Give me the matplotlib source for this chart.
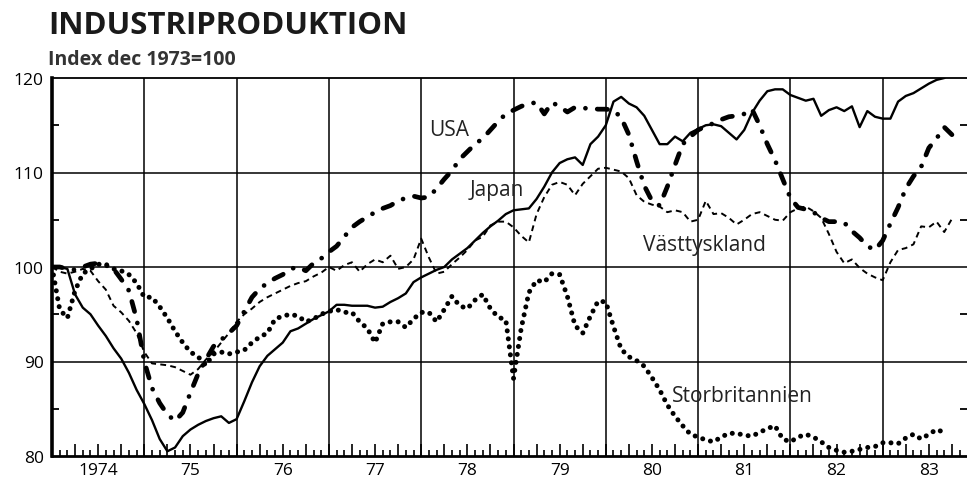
import numpy as np
import matplotlib
matplotlib.use("Agg")
import matplotlib.pyplot as plt
from matplotlib.ticker import FixedLocator, MultipleLocator

# monthly index values, dec 1973 = 100, starting jan 1974
usa = [
    100, 100, 99.8, 99.7, 100, 100.3, 100.4, 100.3, 99.8, 98.7, 97.5, 94.5,
    90.0, 87.2, 85.6, 84.4, 83.7, 84.6, 86.7, 88.7, 90.2, 91.6, 92.3, 93.0,
    93.8, 95.3, 96.8, 97.7, 98.3, 98.8, 99.2, 99.8, 100.0, 99.6, 100.4, 100.9,
    101.6, 102.2, 103.2, 104.2, 104.8, 105.3, 105.8, 106.2, 106.5, 107.0, 107.3, 107.5,
    107.3, 107.4, 108.3, 109.3, 110.2, 111.4, 112.2, 113.0, 113.6, 114.5, 115.4, 116.2,
    116.6, 117.0, 117.3, 117.4, 116.2, 117.4, 117.0, 116.4, 116.9, 116.8, 116.8, 116.7,
    116.7, 116.6, 115.8, 114.0, 111.2, 108.6, 107.0, 106.5, 108.5, 110.8, 113.0, 113.8,
    114.5, 114.9, 115.2, 115.6, 115.9, 116.0, 116.2, 116.7, 115.0, 113.0, 111.3, 109.3,
    107.3, 106.3, 106.1, 105.8, 105.2, 104.8, 104.8, 104.7, 103.8, 103.1, 102.2, 101.8,
    102.8, 104.6, 106.3, 108.3, 109.6, 110.6, 112.6, 113.6, 114.8, 114.0,
]
japan = [
    100, 100, 99.8, 97.1, 95.7, 95.0, 93.8, 92.7, 91.4, 90.3, 88.8, 87.0,
    85.5, 83.8, 81.8, 80.5, 80.9, 82.1, 82.8, 83.3, 83.7, 84.0, 84.2, 83.5,
    83.9, 85.8, 87.8, 89.5, 90.6, 91.3, 92.0, 93.2, 93.5, 94.0, 94.5, 94.9,
    95.3, 96.0, 96.0, 95.9, 95.9, 95.9, 95.7, 95.8, 96.3, 96.7, 97.2, 98.4,
    98.9, 99.3, 99.7, 100.0, 100.8, 101.4, 102.0, 102.8, 103.6, 104.3, 104.9, 105.6,
    106.0, 106.1, 106.2, 107.2, 108.5, 110.0, 111.0, 111.4, 111.6, 110.8, 113.0, 113.8,
    115.0, 117.5, 118.0, 117.3, 116.9, 116.0, 114.5, 113.0, 113.0, 113.8, 113.3, 114.2,
    114.6, 115.0, 115.1, 114.9, 114.2, 113.5, 114.5, 116.3, 117.6, 118.6, 118.8, 118.8,
    118.2, 117.9, 117.6, 117.8, 116.0, 116.6, 116.9, 116.5, 117.0, 114.8, 116.5, 115.9,
    115.7, 115.7, 117.5, 118.1, 118.4, 118.9, 119.4, 119.8, 120.0,
]
vasttyskland = [
    100, 99.5, 99.3, 99.5, 99.8, 99.6, 98.5, 97.6, 95.9, 95.2, 94.3, 93.0,
    91.0, 89.8, 89.7, 89.6, 89.4, 89.0, 88.6, 89.2, 90.2, 91.0, 92.0, 93.0,
    94.2, 95.0, 95.6, 96.3, 96.8, 97.2, 97.6, 98.0, 98.3, 98.5, 99.0, 99.4,
    100.0, 99.6, 100.2, 100.5, 99.5, 100.3, 100.8, 100.5, 101.2, 99.8, 100.0, 100.8,
    103.0, 101.0, 99.3, 99.5, 100.3, 101.0, 101.8, 102.8, 103.2, 104.4, 104.8, 104.8,
    104.2, 103.3, 102.6, 105.6, 107.4, 108.7, 109.0, 108.7, 107.6, 108.8, 109.6, 110.4,
    110.5, 110.3, 110.1, 109.4, 107.6, 106.9, 106.6, 106.4, 105.8, 106.0, 105.8, 104.8,
    105.0, 107.0, 105.6, 105.7, 105.2, 104.5, 105.0, 105.6, 105.8, 105.4, 105.0, 104.9,
    105.8, 106.2, 106.4, 105.9, 105.2, 103.5, 101.6, 100.4, 100.8, 99.9, 99.3, 98.9,
    98.6, 100.5, 101.8, 102.0, 102.4, 104.3, 104.2, 104.8, 103.7, 105.1,
]
storbritannien = [
    100, 95.5, 94.6, 97.5, 99.3, 99.8, 100.3, 100.2, 99.8, 99.6, 99.2, 98.3,
    96.8, 96.8, 95.8, 94.6, 93.2, 92.0, 91.0, 90.5, 89.6, 90.8, 91.0, 90.8,
    91.0, 91.2, 92.0, 92.6, 93.0, 94.5, 94.8, 95.0, 94.8, 94.2, 94.5, 95.0,
    95.3, 95.5, 95.2, 95.2, 94.2, 93.5, 92.0, 94.0, 94.2, 94.2, 93.6, 94.5,
    95.2, 95.2, 94.2, 95.5, 96.9, 95.9, 95.6, 96.5, 97.1, 95.6, 94.7, 94.4,
    88.2, 93.5, 97.3, 98.6, 98.4, 99.3, 99.2, 96.9, 93.8, 93.0, 94.8, 96.4,
    96.3, 93.7, 91.3, 90.5, 90.1, 89.5, 88.3, 87.0, 85.4, 84.2, 83.2, 82.3,
    82.0, 81.7, 81.5, 82.0, 82.4, 82.4, 82.2, 82.1, 82.5, 82.9, 83.2, 81.8,
    81.5, 82.0, 82.3, 82.0, 81.5, 80.9, 80.6, 80.4, 80.5, 80.7, 80.9, 81.0,
    81.4, 81.4, 81.3, 81.9, 82.3, 81.8, 82.3, 82.8, 82.5,
]
year_labels = ["1974", "75", "76", "77", "78", "79", "80", "81", "82", "83"]
y_labels = ["80", "90", "100", "110", "120"]

FONT = ["Open Sans", "DejaVu Sans"]
plt.rcParams["font.family"] = FONT


def months(values):
    return 1974 + np.arange(len(values)) / 12


fig = plt.figure(figsize=(9.67, 4.85), dpi=100)
ax = fig.add_axes([52 / 967, 28 / 485, 1 - 52 / 967, 378 / 485])
ax.set_xlim(1974, 1974 + 915 / 92.3)
ax.set_ylim(80, 120)

# grid
for yv in (90, 100, 110):
    ax.axhline(yv, color="black", lw=1.1, zorder=1)
for yr in range(1975, 1984):
    ax.axvline(yr, color="black", lw=1.1, zorder=1)

ax.plot(months(japan), japan, color="black", lw=1.7, zorder=3)
ax.plot(months(vasttyskland), vasttyskland, color="black", lw=1.4,
        dashes=(3, 2.2), zorder=3)
ax.plot(months(storbritannien), storbritannien, color="black", lw=3.6,
        dashes=(0.01, 1.6), dash_capstyle="round", zorder=4)
ax.plot(months(usa), usa, color="black", lw=3.4,
        dashes=(2.2, 2.5, 0.01, 2.5), dash_capstyle="round", zorder=5)

lab = dict(fontsize=15, color="#222222", va="center", ha="left", zorder=6)
ax.text(1978.09, 114.6, "USA", **lab)
ax.text(1978.53, 108.25, "Japan", **lab)
ax.text(1980.40, 102.4, "Västtyskland", **lab)
ax.text(1980.72, 86.45, "Storbritannien", **lab)

# spines
ax.spines["right"].set_visible(False)
ax.spines["left"].set_linewidth(2.6)
ax.spines["bottom"].set_linewidth(2.0)
ax.spines["top"].set_linewidth(1.3)

# x ticks: quarterly long, monthly short, year label at mid-year
quarters = [1974 + q / 4 for q in range(40)]
ax.xaxis.set_major_locator(FixedLocator(quarters))
ax.set_xticklabels([year_labels[i // 4] if i % 4 == 2 else "" for i in range(40)])
ax.xaxis.set_minor_locator(MultipleLocator(1 / 12))
ax.tick_params(axis="x", which="major", direction="in", length=9, width=1.2,
               pad=4, labelsize=12.5)
ax.tick_params(axis="x", which="minor", direction="in", length=4, width=1.2)

ax.set_yticks([80, 90, 100, 110, 120])
ax.set_yticklabels(y_labels)
ax.yaxis.set_minor_locator(FixedLocator([85, 95, 105, 115]))
ax.tick_params(axis="y", which="major", length=0, pad=6, labelsize=12.5)
ax.tick_params(axis="y", which="minor", direction="in", length=5, width=1.3,
               right=True)

fig.text(48 / 967, 1 - 26 / 485, "INDUSTRIPRODUKTION", fontsize=22.5,
         fontweight="bold", color="#1a1a1a", va="center", ha="left")
fig.text(48 / 967, 1 - 60 / 485, "Index dec 1973=100", fontsize=14,
         fontweight="bold", color="#333333", va="center", ha="left")

fig.savefig("out.png", dpi=100)
